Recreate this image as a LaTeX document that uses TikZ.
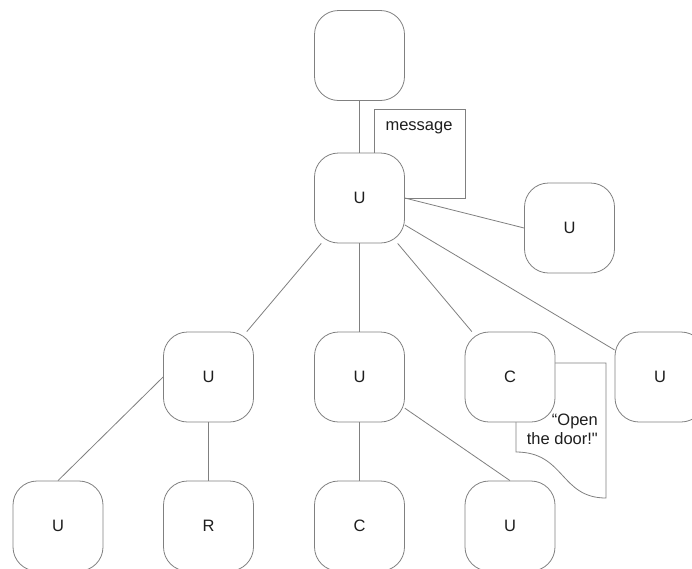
\documentclass[tikz,border=0pt]{standalone}
\usepackage{fontspec}
\setmainfont{Liberation Sans}
\definecolor{lc}{RGB}{128,128,128}
\definecolor{tc}{RGB}{30,30,30}
\begin{document}
\begin{tikzpicture}[x=1pt,y=-1pt,
  box/.style={draw=lc, fill=white, rounded corners=24pt, minimum width=90pt, minimum height=90pt,
    inner sep=0pt, font=\fontsize{16.5}{19}\selectfont, text=tc, line width=0.8pt},
  conn/.style={draw=lc, line width=0.8pt},
  note/.style={draw=lc, fill=white, line width=0.8pt},
  lbl/.style={font=\fontsize{16.5}{19}\selectfont, text=tc, inner sep=0pt}]
\useasboundingbox (0,0) rectangle (692,568);
\clip (0,0) rectangle (692,568);
\fill[white] (0,0) rectangle (692,568);

% message note (partly behind main U)
\draw[note] (374,109) rectangle (465,198);
\node[lbl] (msgtext) at (419,128) {message};

% callout note (partly behind C)
\draw[note] (516,363) -- (606,363) -- (606,498)
  .. controls (560,498) and (565,452) .. (516,452) -- cycle;
\node[lbl, align=right, anchor=east] (calltext) at (598,429.5) {\textquotedblleft Open\\the door!\textquotedbl};

% nodes
\node[box] (top) at (359.5,55.5) {};
\node[box] (mainU) at (359.5,198) {U};
\node[box] (rightU) at (569.5,228) {U};
\node[box] (m1) at (208.5,377) {U};
\node[box] (m2) at (359.5,377) {U};
\node[box] (m3) at (510,377) {C};
\node[box] (m4) at (660,377) {U};
\node[box] (b1) at (58,526) {U};
\node[box] (b2) at (208.5,526) {R};
\node[box] (b3) at (359.5,526) {C};
\node[box] (b4) at (510,526) {U};

% connectors
\draw[conn] (top) -- (mainU);
\draw[conn] (mainU.east) -- (rightU.west);
\draw[conn] (mainU) -- (m1);
\draw[conn] (mainU) -- (m2);
\draw[conn] (mainU) -- (m3);
\draw[conn] (mainU) -- (m4);
\draw[conn] (m1.west) -- (b1.north);
\draw[conn] (m1) -- (b2);
\draw[conn] (m2) -- (b3);
\draw[conn] (m2) -- (b4.north);
\end{tikzpicture}
\end{document}
